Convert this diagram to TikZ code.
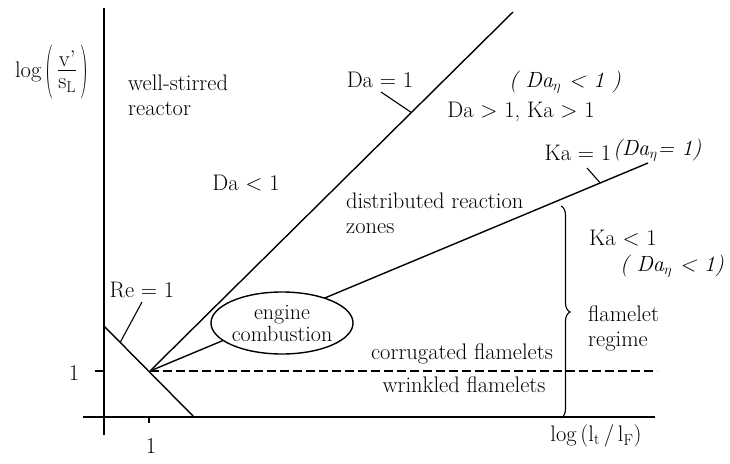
\documentclass[tikz,border=0pt]{standalone}
\usetikzlibrary{decorations.pathreplacing,calc,shapes.geometric}
\newcommand{\bigparen}[1]{\raisebox{-8pt}{\scalebox{1}[2.4]{#1}}}
\begin{document}
\begin{tikzpicture}[x=1pt,y=-1pt,
  lbl/.style={font=\fontsize{22.5}{25}\selectfont, inner sep=0pt},
  hand/.style={font=\fontsize{22}{25}\selectfont, inner sep=0pt},
  ln/.style={line width=1.4pt},
  thin/.style={line width=1.1pt},
  axis/.style={line width=2pt}]
\useasboundingbox (0,0) rectangle (730,463);
% axes
\coordinate (ytop) at (104,8);
\coordinate (ybot) at (104,435);
\coordinate (xl) at (83,417);
\coordinate (xr) at (655,417);
\draw[axis] (ybot) -- (ytop);
\draw[axis] (xl) -- (xr);
% ticks
\coordinate (tyA) at (95,371);
\coordinate (tyB) at (104,371);
\draw[thin] (tyA) -- (tyB);
\coordinate (txA) at (149,417);
\coordinate (txB) at (149,423);
\draw[thin] (txA) -- (txB);
\node[lbl] (one1) at (74,373) {1};
\node[lbl] (one2) at (151,446) {1};
% axis labels
\node[lbl] (ylab) at (52,72) {log\hspace{4pt}\bigparen{(}\hspace{5pt}\begin{tabular}{@{}c@{}}v\textquoteright\\[-4pt]\hline\noalign{\vskip1pt}s\textsubscript{L}\end{tabular}\hspace{5pt}\bigparen{)}};
\node[lbl] (xlab) at (596,436) {log\,(l\textsubscript{t}\,/\,l\textsubscript{F})};
% lines
\coordinate (C) at (150,371);
\coordinate (ReA) at (104,326);
\coordinate (ReB) at (194,417);
\coordinate (DaE) at (513,12);
\coordinate (KaE) at (648,163);
\coordinate (DashE) at (657,371);
\draw[ln] (ReA) -- (ReB);
\draw[ln] (C) -- (DaE);
\draw[ln] (C) -- (KaE);
\draw[ln, dash pattern=on 9pt off 4pt] (C) -- (DashE);
% ellipse
\node[draw, ellipse, fill=white, ln, minimum width=128pt, minimum height=62pt, inner sep=0pt, align=center, font=\fontsize{22}{22}\selectfont] (eng) at (282,323) {engine\\combustion};
% brace
\coordinate (brT) at (561,206);
\coordinate (brB) at (561,418);
\draw[thin, decorate, decoration={brace, amplitude=9pt}] (brT) -- (brB);
% labels
\node[lbl, align=left, anchor=west] (wsr) at (128,95) {well-stirred\\reactor};
\node[lbl] (da1) at (380,80) {Da = 1};
\coordinate (da1p) at ($(C)!0.72!(DaE)$);
\coordinate (da1s) at (381,92);
\draw[thin] (da1s) -- (da1p);
\node[hand] (h1) at (565,82) {\textit{( Da}$_{\eta}$\textit{ < 1 )}};
\node[lbl] (dagt) at (521,112) {Da > 1, Ka > 1};
\node[lbl] (dalt) at (246,183) {Da < 1};
\node[lbl, align=left, anchor=west] (drz) at (346,213) {distributed reaction\\zones};
\node[lbl] (ka1) at (578,153) {Ka = 1};
\node[hand, anchor=west] (h2) at (613,150) {\textit{(Da}$_{\eta}$\textit{= 1)}};
\coordinate (ka1s) at (587,168);
\coordinate (ka1p) at ($(C)!0.904!(KaE)$);
\draw[thin] (ka1s) -- (ka1p);
\node[lbl] (kalt) at (623,238) {Ka < 1};
\node[hand] (h3) at (672,266) {\textit{( Da}$_{\eta}$\textit{ < 1)}};
\node[lbl, align=left, anchor=west] (flr) at (588,328) {flamelet\\regime};
\node[lbl] (corr) at (462,354) {corrugated flamelets};
\node[lbl] (wrink) at (464,385) {wrinkled flamelets};
\node[lbl] (re1) at (142,290) {Re = 1};
\coordinate (re1s) at (142,302);
\coordinate (re1p) at ($(ReA)!0.18!(ReB)$);
\draw[thin] (re1s) -- (re1p);
\end{tikzpicture}
\end{document}
